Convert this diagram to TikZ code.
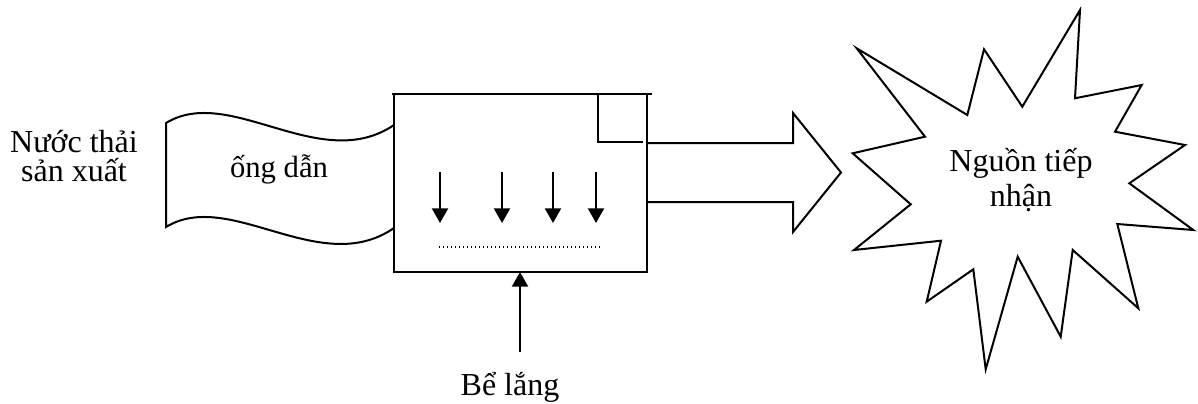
\documentclass[tikz,border=0pt]{standalone}
\usepackage{fontspec}
\setmainfont{Liberation Serif}
\usetikzlibrary{arrows.meta}
\tikzset{
  wall/.style={line width=1.5pt},
  sink/.style={-{Triangle[length=11pt,width=12pt]}, line width=1.5pt},
  txt/.style={font=\fontsize{24}{22}\selectfont, align=center, inner sep=0pt},
}

\begin{document}
\begin{tikzpicture}[x=0.75pt, y=-0.75pt]
        \useasboundingbox (0,0) rectangle (1198,403);

        % Settling tank corners
        \coordinate (TL) at (394,94);
        \coordinate (TR) at (647,94);
        \coordinate (BL) at (394,272);
        \coordinate (BR) at (647,272);

        % Tank walls, top edge sticks out a little
        \draw[wall] (392,94) -- (652,94);
        \draw[wall] (TL) -- (BL) -- (BR) -- (TR);

        % Overflow weir in the top right corner
        \draw[wall] (598,93) -- (598,142) -- (643,142);

        % Inlet pipe (wavy ribbon)
        \draw[wall] (394,125) .. controls (320,175) and (230,84) .. (166,123)
              -- (166,227) .. controls (230,188) and (320,279) .. (394,228);

        % Falling sludge and sludge layer
        \foreach \x in {440,502,553,596}
            \draw[sink] (\x,172) -- (\x,223);
        \draw[line width=1pt, dash pattern=on 1pt off 2pt] (439,247) -- (600,247);

        % Outlet arrow (hollow)
        \draw[wall] (648,143) -- (793,143) -- (793,113) -- (841,172.5)
              -- (793,232) -- (793,202) -- (648,202);

        % Receiving water (burst)
        \draw[wall, line join=miter] (856.7,48.3) -- (967.3,115) -- (984,49.3) -- (1022.3,106.7)
              -- (1080,10) -- (1075,98.3) -- (1141.7,85) -- (1115,131.7)
              -- (1185,145) -- (1129.3,183.3) -- (1193.3,230) -- (1117.3,224)
              -- (1138.3,308.3) -- (1072.7,250) -- (1060.7,336.7) -- (1017.7,256.7)
              -- (985.7,369.3) -- (973.3,269.3) -- (926.7,301.7) -- (941,240.7)
              -- (854,250) -- (910.7,204.3) -- (852.7,153.3) -- (925,136.7) -- cycle;

        % Labels
        \node[txt] (waste) at (74,156) {Nước thải\\sản xuất};
        \node[txt, anchor=base, font=\fontsize{23}{22}\selectfont] (pipe) at (279,177) {ống dẫn};
        \node[txt, font=\fontsize{24}{26.25}\selectfont] (river) at (1021,180) {Nguồn tiếp\\nhận};
        \node[txt, anchor=base] (settle) at (510,395) {Bể lắng};

        % Arrow up into the tank bottom
        \coordinate (feed) at (520,352);
        \coordinate (tankin) at (520,272);
        \draw[sink] (feed) -- (tankin);
    \end{tikzpicture}
\end{document}
